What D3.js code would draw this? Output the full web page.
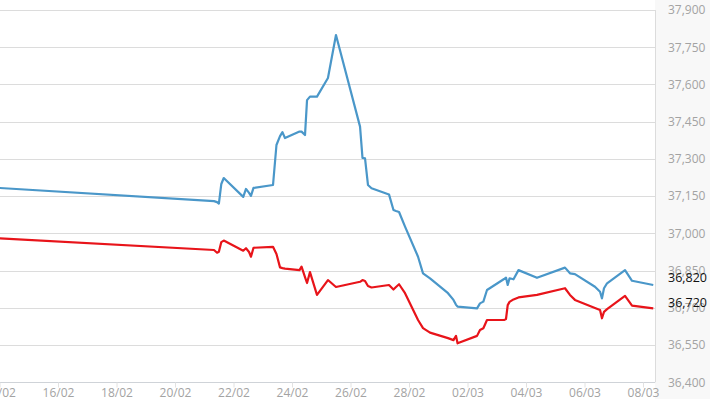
<!DOCTYPE html>
<html>
<head>
<meta charset="utf-8">
<script src="https://cdn.jsdelivr.net/npm/d3@7"></script>
<style>
  html, body { margin: 0; padding: 0; background: #fff; }
  svg { display: block; }
  text { font-family: "Open Sans", "DejaVu Sans", sans-serif; }
</style>
</head>
<body>
<div id="chart"></div>
<script>
// ---- data ----
const times = [
  "2015-02-14 00:00","2015-02-21 08:00","2015-02-21 10:30","2015-02-21 12:00","2015-02-21 14:00",
  "2015-02-21 16:00","2015-02-22 08:00","2015-02-22 10:15","2015-02-22 12:45","2015-02-22 14:20",
  "2015-02-22 16:25","2015-02-23 08:25","2015-02-23 11:15","2015-02-23 14:10","2015-02-23 16:10",
  "2015-02-23 18:15","2015-02-24 06:10","2015-02-24 07:50","2015-02-24 10:40","2015-02-24 12:20",
  "2015-02-24 14:45","2015-02-24 20:30","2015-02-25 05:30","2015-02-25 12:05","2015-02-26 07:50",
  "2015-02-26 09:50","2015-02-26 11:55","2015-02-26 14:20","2015-02-26 17:15","2015-02-27 07:35",
  "2015-02-27 11:15","2015-02-27 13:20","2015-02-27 15:50","2015-02-27 20:45","2015-02-28 07:25",
  "2015-02-28 11:30","2015-02-28 17:15","2015-03-01 08:00","2015-03-01 12:30","2015-03-01 14:35",
  "2015-03-01 15:50","2015-03-02 07:50","2015-03-02 10:15","2015-03-02 13:00","2015-03-02 16:00",
  "2015-03-03 06:00","2015-03-03 07:35","2015-03-03 09:00","2015-03-03 10:30","2015-03-03 13:45",
  "2015-03-03 17:50","2015-03-04 09:00","2015-03-05 08:00","2015-03-05 12:05","2015-03-05 16:10",
  "2015-03-06 08:35","2015-03-06 12:45","2015-03-06 14:20","2015-03-06 16:00","2015-03-06 18:30",
  "2015-03-07 09:15","2015-03-07 15:00","2015-03-08 08:25"
];
const blueValues = [
  37183,37130,37126,37120,37199,37223,37147,37179,37163,37151,
  37183,37195,37356,37392,37408,37384,37410,37410,37396,37537,
  37551,37551,37626,37799,37430,37304,37302,37195,37182,37157,
  37094,37090,37086,37027,36906,36839,36819,36759,36732,36712,
  36705,36698,36718,36725,36772,36816,36822,36792,36819,36815,
  36852,36821,36862,36839,36836,36785,36765,36738,36779,36799,
  36852,36809,36792
];
const redValues = [
  36980,36933,36922,36926,36965,36971,36930,36940,36925,36906,
  36942,36946,36917,36863,36860,36858,36852,36866,36824,36800,
  36844,36752,36812,36784,36805,36812,36808,36788,36782,36792,
  36774,36784,36795,36759,36651,36618,36600,36578,36570,36587,
  36557,36587,36611,36618,36651,36651,36655,36711,36724,36734,
  36742,36752,36779,36752,36732,36699,36691,36658,36684,36695,
  36748,36709,36698
];
const yTicks = [36400,36550,36700,36850,37000,37150,37300,37450,37600,37750,37900];
const xTickDates = ["2015-02-14","2015-02-16","2015-02-18","2015-02-20","2015-02-22","2015-02-24",
  "2015-02-26","2015-02-28","2015-03-02","2015-03-04","2015-03-06","2015-03-08"];
const lastLabels = [
  { series: "blue", value: 36820, text: "36,820" },
  { series: "red",  value: 36720, text: "36,720" }
];

// ---- layout ----
const W = 710, H = 399;
const plotLeft = 0, plotRight = 655, plotTop = 10, plotBottom = 382.3;

const parseT = d3.timeParse("%Y-%m-%d %H:%M");
const parseD = d3.timeParse("%Y-%m-%d");
const fmtTick = d3.timeFormat("%d/%m");
const fmtNum = d3.format(",");

const x = d3.scaleTime()
  .domain([parseD("2015-02-14"), parseD("2015-03-08")])
  .range([-0.5, 643]);
const y = d3.scaleLinear()
  .domain([36400, 37900])
  .range([plotBottom, plotTop]);

const svg = d3.select("#chart").append("svg")
  .attr("width", W).attr("height", H);

// right axis panel background
svg.append("rect")
  .attr("x", plotRight).attr("y", 0)
  .attr("width", W - plotRight).attr("height", H)
  .attr("fill", "#f8f8f8");

svg.append("defs").append("clipPath").attr("id", "plotclip")
  .append("rect")
  .attr("x", plotLeft).attr("y", 0)
  .attr("width", plotRight - plotLeft).attr("height", plotBottom + 1);

// grid lines
svg.append("g")
  .selectAll("line")
  .data(yTicks.filter(v => v !== 36400))
  .join("line")
  .attr("x1", plotLeft).attr("x2", plotRight)
  .attr("y1", d => Math.round(y(d)) + 0.5)
  .attr("y2", d => Math.round(y(d)) + 0.5)
  .attr("stroke", "#dcdcdc")
  .attr("stroke-width", 1);

// right border of plot
svg.append("line")
  .attr("x1", plotRight + 0.5).attr("x2", plotRight + 0.5)
  .attr("y1", plotTop).attr("y2", plotBottom)
  .attr("stroke", "#dcdcdc");

// bottom axis
const xAxis = d3.axisBottom(x)
  .tickValues(xTickDates.map(parseD))
  .tickFormat(fmtTick)
  .tickSize(5)
  .tickSizeOuter(0)
  .tickPadding(1);
const gx = svg.append("g")
  .attr("transform", `translate(0,${Math.round(plotBottom) + 0.5})`)
  .call(xAxis);
gx.select(".domain").attr("stroke", "#cfd3d8").attr("d", `M${plotLeft},0H${plotRight}`);
gx.selectAll(".tick line").attr("stroke", "#e2e2e2");
gx.selectAll(".tick text")
  .attr("fill", "#a3a3a3")
  .style("font-size", "12px")
  .style("font-family", "'Open Sans', sans-serif");

// right axis labels
const yAxis = d3.axisRight(y)
  .tickValues(yTicks)
  .tickFormat(fmtNum)
  .tickSize(0)
  .tickPadding(13);
const gy = svg.append("g")
  .attr("transform", `translate(${plotRight},0)`)
  .call(yAxis);
gy.select(".domain").remove();
gy.selectAll(".tick text")
  .attr("fill", "#a3a3a3")
  .style("font-size", "12px")
  .style("font-family", "'Open Sans', sans-serif");

// lines
const data = times.map((t, i) => ({ t: parseT(t), blue: blueValues[i], red: redValues[i] }));
const lineFor = key => d3.line().x(d => x(d.t)).y(d => y(d[key]));
const colors = { blue: "#4a97c9", red: "#e8141a" };

const gLines = svg.append("g").attr("clip-path", "url(#plotclip)");
["blue", "red"].forEach(key => {
  gLines.append("path")
    .datum(data)
    .attr("fill", "none")
    .attr("stroke", colors[key])
    .attr("stroke-width", 2.2)
    .attr("stroke-linejoin", "round")
    .attr("d", lineFor(key));
});

// last value labels
svg.append("g")
  .selectAll("text")
  .data(lastLabels)
  .join("text")
  .attr("x", plotRight + 13)
  .attr("y", d => y(d.value))
  .attr("dy", "0.32em")
  .attr("fill", "#111")
  .style("font-size", "12.5px")
  .text(d => d.text);
</script>
</body>
</html>
